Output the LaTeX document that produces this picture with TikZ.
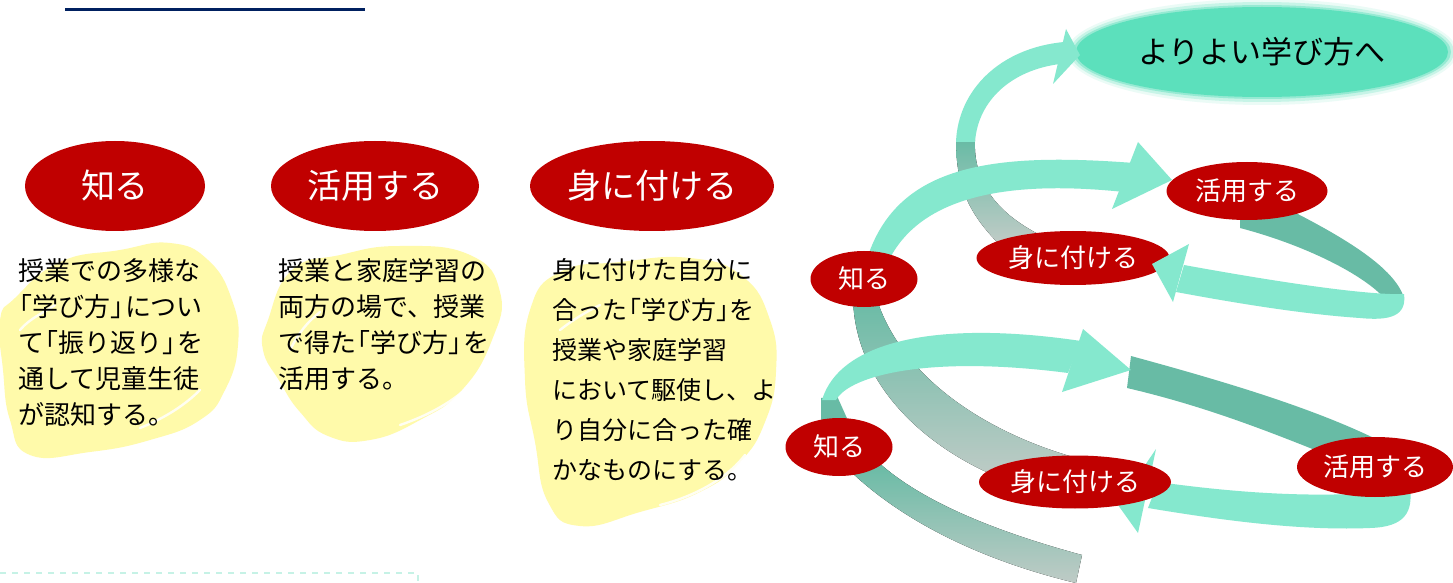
\documentclass[tikz,border=0pt]{standalone}
\usepackage{fontspec}
\setmainfont{Noto Sans CJK JP}
\usetikzlibrary{shapes.geometric}
\definecolor{mint}{HTML}{85E8CE}
\definecolor{tealb}{HTML}{68BBA5}
\definecolor{grayend}{HTML}{BFCBC6}
\definecolor{goalc}{HTML}{5CE0BC}
\definecolor{redc}{HTML}{C00000}
\definecolor{hl}{HTML}{FFFAAA}
\definecolor{navyc}{HTML}{002060}
\definecolor{dashc}{HTML}{C6F2E6}
\newcommand\LBk{\makebox[0.55em][r]{「}}
\newcommand\RBk{\makebox[0.55em][l]{」}}
\tikzset{
  bigell/.style={ellipse, fill=redc, text=white, inner sep=0pt, font=\fontsize{17}{20}\selectfont},
  smallell/.style={ellipse, fill=redc, text=white, inner sep=0pt, font=\fontsize{13}{15}\selectfont},
  bodytext/.style={align=left, inner sep=0pt, anchor=north west, text=black},
  ribbon/.style={fill=mint},
  backband/.style={fill=tealb},
  fadeband/.style={top color=tealb, bottom color=grayend},
  blob/.style={fill=hl},
  streak/.style={draw=white, line width=1.2pt, line cap=round, opacity=0.85}
}
\begin{document}
\begin{tikzpicture}[x=0.5pt,y=-0.5pt]
\useasboundingbox (0,0) rectangle (1453,583);
\fill[white] (0,0) rectangle (1453,583);

% heading underline
\draw[navyc, line width=1.5pt] (65,9.5) -- (365,9.5);
% dashed frame fragment
\draw[dashc, dashed, line width=1pt] (0,573) -- (418,573) -- (418,583);

% yellow highlight blobs
\fill[blob] plot[smooth cycle, tension=0.8] coordinates {(15,298) (60,262) (120,250) (170,243) (208,260) (232,300) (238,345) (225,390) (200,420) (150,440) (90,452) (30,455) (10,420) (3,370) (0,320)};
\fill[blob] plot[smooth cycle, tension=0.8] coordinates {(268,320) (292,270) (340,255) (400,246) (470,255) (500,292) (492,340) (462,390) (420,420) (370,440) (328,436) (300,412) (280,382) (263,350)};
\fill[blob] plot[smooth cycle, tension=0.8] coordinates {(530,310) (560,272) (620,262) (690,258) (742,276) (770,320) (776,372) (765,422) (740,462) (700,492) (640,512) (580,526) (548,502) (535,442) (525,380)};
\draw[streak] (20,330) .. controls (30,318) and (45,312) .. (55,305);
\draw[streak] (140,428) .. controls (165,418) and (185,405) .. (200,390);
\draw[streak] (290,350) .. controls (300,330) and (310,320) .. (320,312);
\draw[streak] (400,425) .. controls (430,415) and (455,400) .. (470,385);
\draw[streak] (560,330) .. controls (575,318) and (590,310) .. (600,305);
\draw[streak] (660,505) .. controls (700,495) and (730,475) .. (745,455);

% left column
\node[bigell, minimum width=90pt, minimum height=45pt] (k1) at (115,186) {知る};
\node[bigell, minimum width=104pt, minimum height=45pt] (k2) at (375,186) {活用する};
\node[bigell, minimum width=122pt, minimum height=45pt] (k3) at (652,186) {身に付ける};

\node[bodytext, font=\fontsize{13}{18}\selectfont] (t1) at (18,258) {授業での多様な\\\LBk 学び方\RBk につい\\て\LBk 振り返り\RBk を\\通して児童生徒\\が認知する。};
\node[bodytext, font=\fontsize{13}{18}\selectfont] (t2) at (278,258) {授業と家庭学習の\\両方の場で、授業\\で得た\LBk 学び方\RBk を\\活用する。};
\node[bodytext, font=\fontsize{12.5}{20}\selectfont] (t3) at (552,258) {身に付けた自分に\\合った\LBk 学び方\RBk を\\授業や家庭学習\\において駆使し、よ\\り自分に合った確\\かなものにする。};

% ---------- spiral (back bands) ----------
\fill[fadeband] (853,295) .. controls (853,380) and (920,445) .. (1000,478) -- (1092,462) .. controls (1000,440) and (905,385) .. (877,300) -- cycle;
\fill[fadeband] (847,468) .. controls (900,520) and (980,560) .. (1076,583) -- (1082,555) .. controls (990,530) and (920,500) .. (878,462) -- cycle;
\fill[backband] (821,398) -- (837,396) -- (850,425) -- (821,425) -- cycle;
\fill[backband] (1131,356) .. controls (1230,383) and (1320,410) .. (1388,445) -- (1320,452) .. controls (1260,428) and (1200,405) .. (1127,388) -- cycle;
\fill[backband] (1240,218) -- (1290,210) .. controls (1345,238) and (1395,268) .. (1404,298) -- (1386,300) .. controls (1365,275) and (1305,245) .. (1240,228) -- cycle;
\fill[top color=tealb, bottom color=grayend] (997,242) .. controls (968,212) and (956,185) .. (956,140) -- (975,140) .. controls (973,185) and (1000,215) .. (1042,236) -- cycle;

% ---------- spiral (front bands) ----------
\fill[ribbon] (956,142) .. controls (958,90) and (1000,48) .. (1064,42) -- (1060,64) .. controls (1012,70) and (978,100) .. (975,142) -- cycle;
\fill[ribbon] (866,262) .. controls (895,165) and (990,152) .. (1134,163) -- (1124,192) .. controls (1010,180) and (920,195) .. (888,262) -- cycle;
\fill[ribbon] (1404,294) .. controls (1407,316) and (1390,321) .. (1360,318) .. controls (1300,314) and (1230,302) .. (1176,292) -- (1184,265) .. controls (1250,277) and (1340,292) .. (1390,294) -- cycle;
\fill[ribbon] (822,400) .. controls (840,340) and (940,320) .. (1081,341) -- (1068,373) .. controls (930,355) and (850,375) .. (836,400) -- cycle;
\fill[ribbon] (1410,488) .. controls (1413,512) and (1405,527) .. (1370,528) .. controls (1300,531) and (1220,520) .. (1148,508) -- (1158,482) .. controls (1230,492) and (1320,500) .. (1405,490) -- cycle;
% arrowhead that lies behind the lower 身に付ける
\fill[ribbon] (1156,449) -- (1118,505) -- (1138,533) -- cycle;

% goal ellipse with soft edge
\fill[goalc, opacity=0.12] (1262,52) ellipse (97.5pt and 26.5pt);
\fill[goalc, opacity=0.25] (1262,52) ellipse (96pt and 25pt);
\fill[goalc, opacity=0.45] (1262,52) ellipse (94.5pt and 23.5pt);
\node[ellipse, fill=goalc, minimum width=186pt, minimum height=45pt, inner sep=0pt, font=\fontsize{15.5}{18}\selectfont] (goal) at (1262,52) {よりよい学び方へ};

% red nodes of the spiral
\node[smallell, minimum width=80.5pt, minimum height=29pt] (u2) at (1247,191) {活用する};
\node[smallell, minimum width=96.5pt, minimum height=27pt] (u3) at (1073,258) {身に付ける};
\node[smallell, minimum width=53.5pt, minimum height=28pt] (u1) at (864,279) {知る};
\node[smallell, minimum width=53.5pt, minimum height=29pt] (l1) at (839,447) {知る};
\node[smallell, minimum width=96pt, minimum height=26.5pt] (l3) at (1075,482) {身に付ける};
\node[smallell, minimum width=78pt, minimum height=30pt] (l2) at (1375,467) {活用する};

% arrowheads in front
\fill[ribbon] (1066,29) -- (1080,55) -- (1053,84) -- cycle;
\fill[ribbon] (1138,142) -- (1172,180) -- (1112,209) -- cycle;
\fill[ribbon] (1189,244) -- (1152,264) -- (1173,302) -- cycle;
\fill[ribbon] (1083,329) -- (1131,370) -- (1062,392) -- cycle;
\end{tikzpicture}
\end{document}
